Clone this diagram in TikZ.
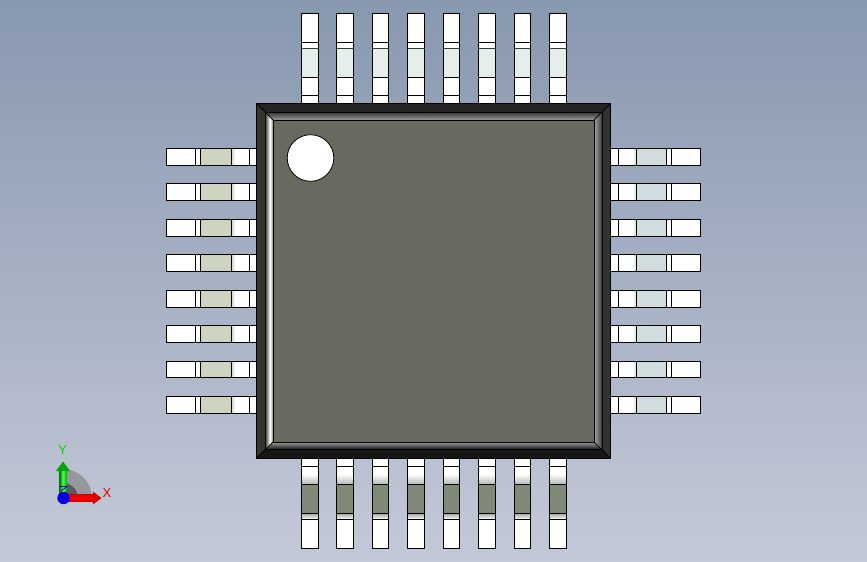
\documentclass[tikz,border=0pt]{standalone}
\usepackage{fontspec}
\setmainfont{Liberation Sans}
\definecolor{bgtop}{RGB}{136,152,175}
\definecolor{bgbot}{RGB}{196,201,216}
\definecolor{facec}{RGB}{104,105,95}
\definecolor{topband}{RGB}{230,238,234}
\definecolor{leftband}{RGB}{204,212,192}
\definecolor{rightband}{RGB}{208,220,222}
\definecolor{botband}{RGB}{128,136,120}
\definecolor{bandtop}{RGB}{36,36,36}
\definecolor{bandleft}{RGB}{52,53,45}
\definecolor{bandright}{RGB}{50,50,50}
\definecolor{bandbot}{RGB}{22,23,20}
\definecolor{tridark}{RGB}{90,90,95}
\definecolor{trilight}{RGB}{150,152,160}
\tikzset{
  pinline/.style={draw=black,line width=1pt},
  bevel/.style={draw=black,line width=0.8pt},
}
\begin{document}
\begin{tikzpicture}[x=1pt,y=-1pt]
\useasboundingbox (0,0) rectangle (867,561.9);
\shade[bottom color=bgbot,top color=bgtop] (0,0) rectangle (867,561.9);
% pins
\foreach \i in {0,...,7}{
  \pgfmathsetmacro{\xa}{floor(301.4+35.45*\i)+0.5}
  \pgfmathsetmacro{\xb}{floor(301.4+35.45*\i+16.6)+0.5}
  % top
  \fill[white] (\xa,13.5) rectangle (\xb,103);
  \fill[topband] (\xa,48.5) rectangle (\xb,77.5);
  \draw[pinline] (\xa,13.5) rectangle (\xb,103);
  \draw[pinline] (\xa,42.5) -- (\xb,42.5);
  \draw[line width=1pt,draw={rgb,255:red,50;green,60;blue,60}] (\xa,48.5) -- (\xb,48.5);
  \draw[pinline] (\xa,77.5) -- (\xb,77.5) (\xa,95.5) -- (\xb,95.5);
  % bottom
  \fill[white] (\xa,458) rectangle (\xb,548.5);
  \fill[botband] (\xa,484.5) rectangle (\xb,513.5);
  \shade[top color=white,bottom color=botband!60!white] (\xa,474) rectangle (\xb,484.5);
  \shade[top color=botband!70!white,bottom color=white] (\xa,513.5) rectangle (\xb,519.5);
  \draw[pinline] (\xa,458) rectangle (\xb,548.5);
  \draw[pinline] (\xa,466.5) -- (\xb,466.5) (\xa,484.5) -- (\xb,484.5) (\xa,513.5) -- (\xb,513.5) (\xa,519.5) -- (\xb,519.5);
  % left
  \pgfmathsetmacro{\ya}{floor(148.5+35.45*\i)+0.5}
  \pgfmathsetmacro{\yb}{floor(148.5+35.45*\i+16.8)+0.5}
  \fill[white] (166.5,\ya) rectangle (257,\yb);
  \fill[leftband] (200.5,\ya) rectangle (231.5,\yb);
  \shade[left color=leftband,right color=white] (231.5,\ya) rectangle (235,\yb);
  \draw[pinline] (166.5,\ya) rectangle (257,\yb);
  \draw[pinline] (195.5,\ya) -- (195.5,\yb) (200.5,\ya) -- (200.5,\yb) (231.5,\ya) -- (231.5,\yb) (249.5,\ya) -- (249.5,\yb);
  % right
  \fill[white] (610,\ya) rectangle (700.5,\yb);
  \fill[rightband] (636.5,\ya) rectangle (666.5,\yb);
  \shade[left color=white,right color=rightband] (632,\ya) rectangle (636.5,\yb);
  \draw[pinline] (610,\ya) rectangle (700.5,\yb);
  \draw[pinline] (618.5,\ya) -- (618.5,\yb) (636.5,\ya) -- (636.5,\yb) (666.5,\ya) -- (666.5,\yb) (671.5,\ya) -- (671.5,\yb);
}
% package outer frame
\fill[bandtop] (256.5,103.5) -- (610.5,103.5) -- (602,112) -- (265,112) -- cycle;
\fill[bandleft] (256.5,103.5) -- (265,112) -- (265,449) -- (256.5,458) -- cycle;
\fill[bandright] (610.5,103.5) -- (602,112) -- (602,449) -- (610.5,458) -- cycle;
\fill[bandbot] (256.5,458) -- (265,449) -- (602,449) -- (610.5,458) -- cycle;
% inner bevels
\begin{scope}
  \clip (265,112) -- (602,112) -- (594,120) -- (273,120) -- cycle;
  \shade[top color=black!80,bottom color=black!40] (265,112) rectangle (602,120);
\end{scope}
\begin{scope}
  \clip (273,442) -- (594,442) -- (602,449) -- (265,449) -- cycle;
  \shade[top color=black!40,bottom color=black!88] (265,442) rectangle (602,449);
\end{scope}
\begin{scope}
  \clip (265,112) -- (273,120) -- (273,442) -- (265,449) -- cycle;
  \shade[left color=black!80,right color=white] (265,112) rectangle (270,449);
  \shade[left color=white,right color=black!50] (270,112) rectangle (273,449);
\end{scope}
\begin{scope}
  \clip (594,120) -- (602,112) -- (602,449) -- (594,442) -- cycle;
  \shade[left color=black!35,right color=black!78] (594,112) rectangle (602,449);
\end{scope}
\fill[facec] (273,120) rectangle (594,442);
% lines
\draw[bevel] (256.5,103.5) rectangle (610.5,458);
\draw[bevel] (265,112) rectangle (602,449);
\draw[bevel] (273,120) rectangle (594,442);
\draw[bevel] (256.5,103.5) -- (273,120) (610.5,103.5) -- (594,120) (256.5,458) -- (273,442) (610.5,458) -- (594,442);
% pin-one mark
\draw[fill=white,draw=black,line width=0.8pt] (310.5,158) circle (23.3);
% triad
\begin{scope}
  \clip (63,460) rectangle (100,498);
  \fill[trilight] (63,498) circle (29);
  \fill[tridark] (63,498) circle (15);
\end{scope}
\shade[left color=green!50!black,right color=green!70!black,middle color=green!70!white] (59.5,498) rectangle (66.5,470);
\fill[green!65!black] (56,471) -- (63,461.5) -- (70,471) -- cycle;
\shade[top color=red!85!black,bottom color=red!75!black,middle color=red] (63,494.5) rectangle (93,501.5);
\fill[red!85!black] (93,491.5) -- (101.5,498) -- (93,504.5) -- cycle;
\draw[blue!90!black,line width=0.7pt] (60,486.5) -- (67,486.5) -- (61,491);
\fill[blue!90!black] (63.5,498) circle (6.2);
\node[text=green!85!black,font=\fontsize{13}{13}\selectfont,inner sep=0pt] (ylab) at (62.8,450) {Y};
\node[text=red!90!black,font=\fontsize{13}{13}\selectfont,inner sep=0pt] (xlab) at (107,493) {X};
\end{tikzpicture}
\end{document}
